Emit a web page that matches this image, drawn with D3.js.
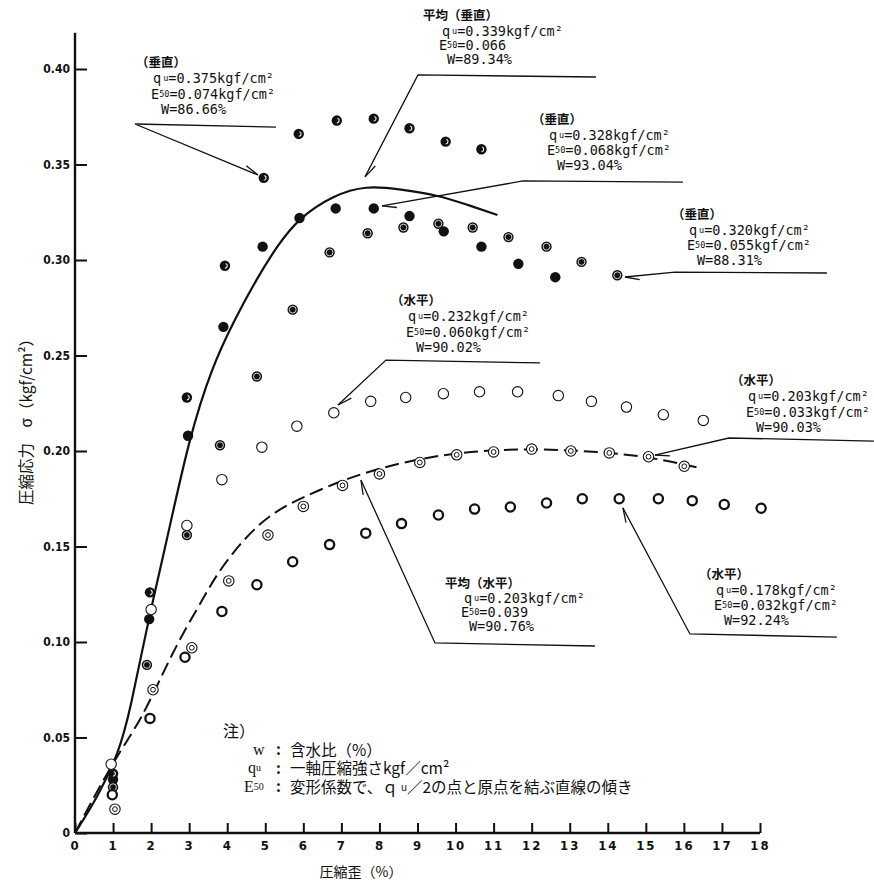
<!DOCTYPE html>
<html>
<head>
<meta charset="utf-8">
<script src="https://cdn.jsdelivr.net/npm/d3@7/dist/d3.min.js"></script>
<style>
  body { margin: 0; background: #fff; }
  text { fill: #111; }
</style>
</head>
<body>
<svg id="chart" width="874" height="884"></svg>
<script>
// strain (%) vs compressive stress (kgf/cm2)
const vertA = [[1.0,0.031],[1.97,0.126],[2.94,0.228],[3.94,0.297],[4.96,0.343],[5.88,0.366],[6.88,0.373],[7.85,0.374],[8.79,0.369],[9.74,0.362],[10.68,0.358]];
const vertB = [[1.0,0.028],[1.95,0.112],[2.97,0.208],[3.9,0.265],[4.93,0.307],[5.9,0.322],[6.85,0.327],[7.85,0.327],[8.79,0.323],[9.69,0.315],[10.68,0.307],[11.65,0.298],[12.62,0.291]];
const vertC = [[1.0,0.024],[1.89,0.088],[2.94,0.156],[3.81,0.203],[4.78,0.239],[5.72,0.274],[6.69,0.304],[7.69,0.314],[8.63,0.317],[9.55,0.319],[10.45,0.317],[11.39,0.312],[12.39,0.307],[13.31,0.299],[14.25,0.292]];
const horzD = [[0.95,0.036],[2.0,0.117],[2.94,0.161],[3.86,0.185],[4.91,0.202],[5.83,0.213],[6.8,0.220],[7.77,0.226],[8.69,0.228],[9.68,0.230],[10.63,0.231],[11.63,0.231],[12.7,0.229],[13.57,0.226],[14.49,0.223],[15.46,0.219],[16.51,0.216]];
const horzE = [[1.05,0.0125],[2.05,0.075],[3.07,0.097],[4.04,0.132],[5.07,0.156],[6.0,0.171],[7.03,0.182],[8.0,0.188],[9.06,0.194],[10.03,0.198],[11.0,0.1995],[12.0,0.201],[13.03,0.200],[14.04,0.199],[15.07,0.197],[16.01,0.192]];
const horzF = [[0.98,0.020],[1.97,0.060],[2.89,0.092],[3.86,0.116],[4.78,0.130],[5.72,0.142],[6.69,0.151],[7.64,0.157],[8.58,0.162],[9.55,0.1665],[10.5,0.1696],[11.44,0.1707],[12.39,0.1728],[13.33,0.175],[14.3,0.175],[15.33,0.175],[16.22,0.174],[17.06,0.172],[18.03,0.170]];

// average curves
const avgVert = [[0,0],[0.6,0.019],[1.15,0.042],[1.45,0.064],[1.92,0.111],[2.4,0.152],[3.0,0.207],[3.6,0.244],[4.17,0.268],[4.8,0.291],[5.3,0.307],[5.88,0.322],[6.8,0.334],[7.64,0.339],[8.56,0.337],[9.53,0.334],[10.3,0.329],[11.1,0.3236]];
const avgHorz = [[0,0],[0.5,0.019],[1.15,0.042],[1.73,0.059],[2.34,0.085],[2.78,0.1026],[3.39,0.1236],[3.83,0.139],[4.7,0.160],[5.41,0.170],[5.9,0.175],[7.5,0.189],[9.8,0.1995],[12.05,0.2015],[13.8,0.1995],[15.1,0.197],[16.43,0.191]];

const xTicks = d3.range(0, 19);
const yTicks = [0, 0.05, 0.10, 0.15, 0.20, 0.25, 0.30, 0.35, 0.40];

// callouts: header, qu, E50, W ; positions in data units
const callouts = [
  {head: "（垂直）", qu: "0.375kgf/cm²", e: "0.074kgf/cm²", w: "86.66%", at: [1.603, 0.4037], elbow: [1.576, 0.3712], end: [5.281, 0.3696], tip: [4.808, 0.3445]},
  {head: "平均（垂直）", qu: "0.339kgf/cm²", e: "0.066", w: "89.34%", avg: true, at: [9.143, 0.4283], elbow: [9.012, 0.3969], end: [13.689, 0.3958], tip: [7.62, 0.3435]},
  {head: "（垂直）", qu: "0.328kgf/cm²", e: "0.068kgf/cm²", w: "93.04%", at: [12.007, 0.3743], elbow: [11.771, 0.3414], end: [15.975, 0.3408], tip: [8.066, 0.3283]},
  {head: "（垂直）", qu: "0.320kgf/cm²", e: "0.055kgf/cm²", w: "88.31%", at: [15.686, 0.3246], elbow: [15.765, 0.2937], end: [19.758, 0.2932], tip: [14.451, 0.2911]},
  {head: "（水平）", qu: "0.232kgf/cm²", e: "0.060kgf/cm²", w: "90.02%", at: [8.303, 0.2791], elbow: [8.171, 0.2476], end: [12.218, 0.2461], tip: [6.91, 0.2241]},
  {head: "（水平）", qu: "0.203kgf/cm²", e: "0.033kgf/cm²", w: "90.03%", at: [17.236, 0.2372], elbow: [17.183, 0.2068], end: [20.993, 0.2052], tip: [15.239, 0.1979]},
  {head: "平均（水平）", qu: "0.203kgf/cm²", e: "0.039", w: "90.76%", avg: true, at: [9.721, 0.1314], elbow: [9.459, 0.0995], end: [13.663, 0.0979], tip: [7.514, 0.1848]},
  {head: "（水平）", qu: "0.178kgf/cm²", e: "0.032kgf/cm²", w: "92.24%", at: [16.395, 0.1361], elbow: [16.159, 0.1042], end: [20.021, 0.1026], tip: [14.398, 0.1702]}
];

const svg = d3.select("#chart");
const x = d3.scaleLinear().domain([0, 18]).range([75, 760]);
const y = d3.scaleLinear().domain([0, 0.40]).range([833, 69]);
const ink = "#111";
const tickFont = "'DejaVu Sans Condensed', 'Liberation Sans Narrow', 'DejaVu Sans', sans-serif";
const monoFont = "'DejaVu Sans Mono', 'Liberation Mono', monospace";
const cjkFont = "'Noto Sans CJK JP', sans-serif";
const serif = "'Liberation Serif', 'DejaVu Serif', serif";

// axes
const yAxis = d3.axisLeft(y).tickValues(yTicks).tickSizeInner(-12).tickSizeOuter(0).tickPadding(5)
  .tickFormat(d => d === 0 ? "0" : d3.format(".2f")(d));
const xAxis = d3.axisBottom(x).tickValues(xTicks).tickSizeInner(-10).tickSizeOuter(0).tickPadding(8);

const gy = svg.append("g").attr("transform", `translate(${x(0)},0)`).call(yAxis);
const gx = svg.append("g").attr("transform", `translate(0,${y(0)})`).call(xAxis);
[gx, gy].forEach(g => {
  g.select(".domain").remove();
  g.selectAll(".tick line").attr("stroke", ink).attr("stroke-width", 2);
  g.selectAll(".tick text").attr("fill", ink).attr("font-family", tickFont)
    .attr("font-weight", "bold").attr("font-size", 12);
});
gx.selectAll(".tick text").attr("letter-spacing", 2).attr("font-size", 13);

svg.append("line").attr("x1", x(0)).attr("x2", x(0)).attr("y1", y(0)).attr("y2", y(0.419))
  .attr("stroke", ink).attr("stroke-width", 2.4);
svg.append("line").attr("x1", x(0)).attr("x2", x(18)).attr("y1", y(0)).attr("y2", y(0))
  .attr("stroke", ink).attr("stroke-width", 2.4);

svg.append("text").attr("x", 361).attr("y", 877).attr("text-anchor", "middle")
  .attr("font-family", cjkFont).attr("font-size", 14).text("圧縮歪（%）");
svg.append("text").attr("transform", "translate(32,418) rotate(-90)").attr("text-anchor", "middle")
  .attr("font-family", cjkFont).attr("font-size", 15.5).text("圧縮応力　σ（kgf/cm²）");

// average curves
const line = d3.line().x(d => x(d[0])).y(d => y(d[1])).curve(d3.curveBasis);
svg.append("path").datum(avgVert).attr("d", line).attr("fill", "none")
  .attr("stroke", ink).attr("stroke-width", 2.2);
svg.append("path").datum(avgHorz).attr("d", line).attr("fill", "none")
  .attr("stroke", ink).attr("stroke-width", 2).attr("stroke-dasharray", "14,6");

// markers
const place = sel => sel.attr("cx", d => x(d[0])).attr("cy", d => y(d[1]));
const dots = (data, cls) => svg.append("g").selectAll("circle").data(data).join("circle").attr("class", cls).call(place);

dots(vertB, "solid").attr("r", 5.2).attr("fill", ink);
dots(vertC, "ringed").attr("r", 5.2).attr("fill", ink);
dots(vertC, "ring").attr("r", 3.4).attr("fill", "none").attr("stroke", "#fff").attr("stroke-width", 0.8);
dots(vertA, "cres").attr("r", 5.2).attr("fill", ink);
svg.append("g").selectAll("path").data(vertA).join("path")
  .attr("transform", d => `translate(${x(d[0])},${y(d[1])})`)
  .attr("d", d3.arc()({innerRadius: 1.8, outerRadius: 2.9, startAngle: Math.PI * 0.1, endAngle: Math.PI * 1.0}))
  .attr("fill", "#fff");

dots(horzD, "open").attr("r", 5.2).attr("fill", "#fff").attr("stroke", ink).attr("stroke-width", 1.1);
dots(horzE, "dbl").attr("r", 5.2).attr("fill", "#fff").attr("stroke", ink).attr("stroke-width", 1.1);
dots(horzE, "dbl-in").attr("r", 2.4).attr("fill", "none").attr("stroke", ink).attr("stroke-width", 1);
dots(horzF, "bold").attr("r", 4.6).attr("fill", "#fff").attr("stroke", ink).attr("stroke-width", 2.3);

// callouts
const barb = (c) => {
  const tx = x(c.tip[0]), ty = y(c.tip[1]);
  const a = Math.atan2(y(c.elbow[1]) - ty, x(c.elbow[0]) - tx) + 0.28;
  return [tx, ty, tx + 15 * Math.cos(a), ty + 15 * Math.sin(a)];
};
const cg = svg.append("g").attr("stroke", ink).attr("stroke-width", 1.3).attr("fill", "none");
callouts.forEach(c => {
  cg.append("polyline").attr("points", [c.tip, c.elbow, c.end].map(p => `${x(p[0])},${y(p[1])}`).join(" "));
  const b = barb(c);
  cg.append("line").attr("x1", b[0]).attr("y1", b[1]).attr("x2", b[2]).attr("y2", b[3]);

  const hx = x(c.at[0]), hy = y(c.at[1]);
  const ind = c.avg ? [0, 19, 16, 24] : [0, 17, 15, 25];
  const dy = c.avg ? [0, 16, 30, 44] : [0, 16.5, 32, 47];
  const t = svg.append("g").attr("font-family", monoFont).attr("font-size", 13.5);
  t.append("text").attr("x", hx + ind[0]).attr("y", hy + dy[0]).attr("dominant-baseline", "central")
    .attr("font-family", cjkFont).attr("font-weight", "bold").attr("font-size", 12.5).text(c.head);
  const q = t.append("text").attr("x", hx + ind[1]).attr("y", hy + dy[1]).attr("dominant-baseline", "central");
  q.append("tspan").text("q");
  q.append("tspan").attr("font-size", 8.5).attr("dx", 2).text("u");
  q.append("tspan").text("=" + c.qu);
  const e = t.append("text").attr("x", hx + ind[2]).attr("y", hy + dy[2]).attr("dominant-baseline", "central");
  e.append("tspan").text("E");
  e.append("tspan").attr("font-size", 8.5).text("50");
  e.append("tspan").text("=" + c.e);
  t.append("text").attr("x", hx + ind[3]).attr("y", hy + dy[3]).attr("dominant-baseline", "central").text("W=" + c.w);
});

// footnote
const nx = x(3.889), ny = y(0.0539);
const rows = [
  {dy: 18.5, lx: 30, label: [["w", 16]], body: [["含水比（%）", 15.5]]},
  {dy: 37, lx: 25, label: [["q", 16], ["u", 10]], body: [["一軸圧縮強さkgf／cm²", 15.5]]},
  {dy: 55.5, lx: 21, label: [["E", 16], ["50", 10]], body: [["変形係数で、ｑ", 15.5], ["u", 10], ["／2の点と原点を結ぶ直線の傾き", 15.5]]}
];
svg.append("text").attr("x", nx).attr("y", ny).attr("dominant-baseline", "central")
  .attr("font-family", cjkFont).attr("font-size", 16).text("注）");
rows.forEach(r => {
  const lt = svg.append("text").attr("x", nx + r.lx).attr("y", ny + r.dy).attr("dominant-baseline", "central")
    .attr("font-family", serif);
  r.label.forEach(([s, fs]) => lt.append("tspan").attr("font-size", fs).text(s));
  svg.append("text").attr("x", nx + 53).attr("y", ny + r.dy).attr("dominant-baseline", "central")
    .attr("font-family", cjkFont).attr("font-weight", "bold").attr("font-size", 15).text(":");
  const bt = svg.append("text").attr("x", nx + 67).attr("y", ny + r.dy).attr("dominant-baseline", "central")
    .attr("font-family", cjkFont);
  r.body.forEach(([s, fs]) => bt.append("tspan").attr("font-size", fs).attr("dx", fs < 14 ? 3 : 0).text(s));
});
</script>
</body>
</html>
